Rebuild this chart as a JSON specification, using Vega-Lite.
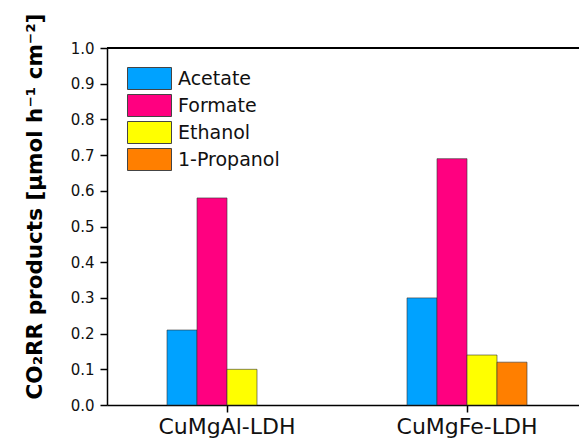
{
  "$schema": "https://vega.github.io/schema/vega-lite/v6.json",
  "autosize": {"type": "none"},
  "padding": {"left": 107, "top": 48, "right": 0, "bottom": 34},
  "width": 472,
  "height": 357,
  "background": "white",
  "config": {
    "view": {"stroke": null},
    "font": "DejaVu Sans",
    "axisY": {
      "values": [0, 0.1, 0.2, 0.3, 0.4, 0.5, 0.6, 0.7, 0.8, 0.9, 1.0],
      "labelOverlap": false,
      "format": ".1f", "labelFontSize": 15, "labelColor": "#111", "labelPadding": 6,
      "tickSize": 7, "tickWidth": 1.5, "tickColor": "#000",
      "domainColor": "#000", "domainWidth": 1.5, "grid": false
    }
  },
  "data": {
    "values": [
      {"sample": "CuMgAl-LDH", "product": "Acetate", "rate": 0.21},
      {"sample": "CuMgAl-LDH", "product": "Formate", "rate": 0.58},
      {"sample": "CuMgAl-LDH", "product": "Ethanol", "rate": 0.10},
      {"sample": "CuMgFe-LDH", "product": "Acetate", "rate": 0.30},
      {"sample": "CuMgFe-LDH", "product": "Formate", "rate": 0.69},
      {"sample": "CuMgFe-LDH", "product": "Ethanol", "rate": 0.14},
      {"sample": "CuMgFe-LDH", "product": "1-Propanol", "rate": 0.12}
    ]
  },
  "layer": [
    {
      "mark": {"type": "bar", "stroke": "#333333", "strokeWidth": 0.6},
      "encoding": {
        "x": {
          "field": "sample", "type": "nominal",
          "sort": ["CuMgAl-LDH", "CuMgFe-LDH"],
          "scale": {"range": [0, 480], "paddingInner": 0.5, "paddingOuter": 0.25},
          "axis": {
            "title": null, "labelAngle": 0, "labelFontSize": 22, "labelColor": "#111",
            "labelPadding": 4, "tickSize": 7, "tickWidth": 1.5, "tickColor": "#000",
            "domainColor": "#000", "domainWidth": 1.5
          }
        },
        "xOffset": {
          "field": "product", "type": "nominal",
          "sort": ["Acetate", "Formate", "Ethanol", "1-Propanol"],
          "scale": {"domain": ["Acetate", "Formate", "Ethanol", "1-Propanol"], "paddingInner": 0, "paddingOuter": 0}
        },
        "y": {
          "field": "rate", "type": "quantitative",
          "scale": {"domain": [0, 1], "nice": false},
          "axis": {
            "title": "CO₂RR products [µmol h⁻¹ cm⁻²]",
            "titleFontSize": 21.5, "titleFontWeight": "bold", "titleColor": "#000",
            "titlePadding": 24, "titleY": 158,
            "values": [0, 0.1, 0.2, 0.3, 0.4, 0.5, 0.6, 0.7, 0.8, 0.9, 1.0]
          }
        },
        "color": {
          "field": "product", "type": "nominal",
          "scale": {
            "domain": ["Acetate", "Formate", "Ethanol", "1-Propanol"],
            "range": ["#00A2FF", "#FF0080", "#FFFF00", "#FF7F00"]
          },
          "legend": {
            "title": null, "orient": "none", "legendX": 31, "legendY": 19,
            "symbolType": "M-2,-1H2V1H-2Z", "symbolSize": 484,
            "symbolStrokeColor": "#444", "symbolStrokeWidth": 1,
            "labelFontSize": 19, "labelColor": "#111", "labelOffset": 17,
            "rowPadding": 0
          }
        }
      }
    },
    {
      "mark": {"type": "rule", "color": "#000", "strokeWidth": 1.5},
      "encoding": {"y": {"datum": 1, "axis": {"values": [0, 0.1, 0.2, 0.3, 0.4, 0.5, 0.6, 0.7, 0.8, 0.9, 1.0]}}}
    }
  ]
}
